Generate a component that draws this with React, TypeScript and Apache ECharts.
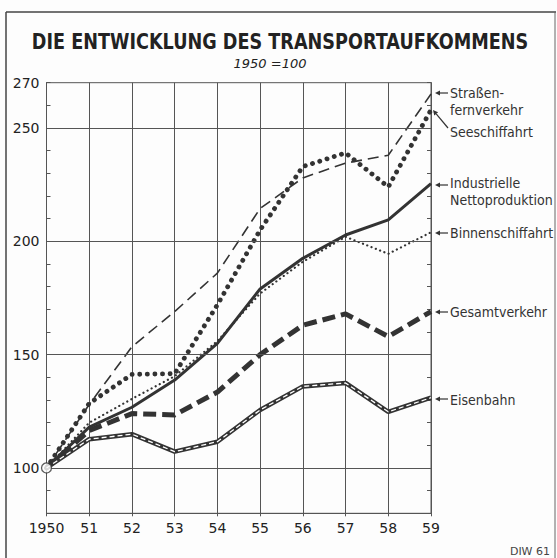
import React, { useEffect, useRef } from "react";
import * as echarts from "echarts";

const years = ["1950", "51", "52", "53", "54", "55", "56", "57", "58", "59"];
const strassen = [100, 128, 153.5, 169, 186, 214.5, 228, 234.5, 238, 265];
const seeschiff = [100, 128.5, 141.3, 141.6, 172, 205, 233, 239, 224, 258];
const industrie = [100, 118, 126.8, 138.8, 155, 179, 192.5, 202.8, 209.5, 225.5];
const binnen = [100, 120, 130.5, 140.5, 156, 177, 191, 202, 194.5, 204];
const gesamt = [100, 116.5, 124, 123.4, 133.5, 150, 163, 168, 158, 169];
const eisenbahn = [100, 112.7, 114.9, 107.2, 111.6, 125.6, 136, 137.5, 124.8, 131];
const gridValues = [100, 150, 200, 250];
const yLabels = [100, 150, 200, 250, 270];
const baseValue = 100;

const INK = "#333";
const FONT = "'DejaVu Sans', sans-serif";

function label(x: number, y: number, text: string) {
  return {
    type: "text",
    x,
    y,
    scaleX: 0.9,
    style: { text, font: `14px ${FONT}`, fill: INK, textVerticalAlign: "middle" },
  };
}
function arrow(x1: number, y1: number, x2: number, y2: number) {
  const ang = Math.atan2(y2 - y1, x2 - x1);
  const hl = 5, hw = 2.5;
  const bx = x1 + Math.cos(ang) * hl, by = y1 + Math.sin(ang) * hl;
  const px = -Math.sin(ang) * hw, py = Math.cos(ang) * hw;
  return [
    { type: "line", shape: { x1: bx, y1: by, x2, y2 }, style: { stroke: INK, lineWidth: 1.2 } },
    {
      type: "polygon",
      shape: { points: [[x1, y1], [bx + px, by + py], [bx - px, by - py]] },
      style: { fill: INK },
    },
  ];
}

export default function App() {
  const ref = useRef<HTMLDivElement>(null);
  useEffect(() => {
    document.body.style.margin = "0";
    const chart = echarts.init(ref.current!, null, { renderer: "svg" });
    const line = (name: string, data: number[], ls: any, z = 3) => ({
      type: "line",
      name,
      data,
      symbol: "none",
      z,
      lineStyle: { color: INK, ...ls },
    });
    chart.setOption({
      animation: false,
      backgroundColor: "#fdfdfd",
      grid: { left: 46.5, right: 126, top: 82.7, bottom: 44.7, show: true, borderColor: "#555", borderWidth: 1 },
      xAxis: {
        type: "category",
        data: years,
        boundaryGap: false,
        axisLine: { lineStyle: { color: "#555" } },
        axisTick: { show: true, length: 3, interval: 0, lineStyle: { color: "#555" } },
        axisLabel: { color: "#222", fontSize: 14, fontFamily: FONT, margin: 8, interval: 0 },
        splitLine: { show: true, interval: 0, lineStyle: { color: "#555", width: 1 } },
      },
      yAxis: [
        {
          type: "value",
          min: 80,
          max: 270,
          interval: 10,
          axisLine: { show: true, lineStyle: { color: "#555" } },
          axisTick: { show: true, inside: true, length: 4, lineStyle: { color: "#555" } },
          axisLabel: {
            color: "#222",
            fontSize: 14,
            fontFamily: FONT,
            margin: 7,
            formatter: (v: number) => (yLabels.includes(v) ? String(v) : ""),
          },
          splitLine: { show: false },
        },
        {
          type: "value",
          position: "right",
          min: 80,
          max: 270,
          interval: 10,
          axisLine: { show: true, lineStyle: { color: "#555" } },
          axisTick: { show: true, inside: true, length: 4, lineStyle: { color: "#555" } },
          axisLabel: { show: false },
          splitLine: { show: false },
        },
      ],
      series: [
        {
          type: "line",
          data: [],
          z: 1,
          markLine: {
            silent: true,
            symbol: "none",
            label: { show: false },
            lineStyle: { color: "#555", width: 1, type: "solid" },
            data: gridValues.map((v) => ({ yAxis: v })),
          },
        },
        line("Eisenbahn", eisenbahn, { width: 4.5 }),
        line("Eisenbahn ", eisenbahn, { width: 1.3, color: "#fff", type: [5, 3] }, 4),
        line("Gesamtverkehr", gesamt, { width: 5, type: [13, 6] }),
        line("Binnenschiffahrt", binnen, { width: 2.2, type: [0.1, 4.5], cap: "round" }),
        line("Industrielle Nettoproduktion", industrie, { width: 3 }),
        line("Seeschiffahrt", seeschiff, { width: 4.8, type: [0.1, 7.5], cap: "round" }),
        line("Straßenfernverkehr", strassen, { width: 1.6, type: [11, 6] }),
        {
          type: "scatter",
          data: [[years[0], baseValue]],
          symbol: "circle",
          symbolSize: 10,
          z: 10,
          itemStyle: { color: "#fff", borderColor: INK, borderWidth: 1.3 },
        },
      ],
      graphic: [
        { type: "line", shape: { x1: 6, y1: 12, x2: 556, y2: 12 }, style: { stroke: "#444", lineWidth: 1.5 } },
        { type: "line", shape: { x1: 6, y1: 12, x2: 6, y2: 558 }, style: { stroke: "#444", lineWidth: 1.5 } },
        { type: "line", shape: { x1: 555, y1: 12, x2: 555, y2: 558 }, style: { stroke: "#666", lineWidth: 1 } },
        {
          type: "text",
          x: 280,
          y: 42,
          scaleX: 0.84,
          style: {
            text: "DIE ENTWICKLUNG DES TRANSPORTAUFKOMMENS",
            font: `bold 21px ${FONT}`,
            fill: "#222",
            textAlign: "center",
            textVerticalAlign: "middle",
          },
        },
        {
          type: "text",
          x: 270,
          y: 63,
          style: {
            text: "1950 =100",
            font: `italic 13px ${FONT}`,
            fill: "#222",
            textAlign: "center",
            textVerticalAlign: "middle",
          },
        },
        label(450, 93, "Straßen-"),
        label(450, 110, "fernverkehr"),
        label(450, 132, "Seeschiffahrt"),
        label(450, 183, "Industrielle"),
        label(450, 200, "Nettoproduktion"),
        label(450, 233, "Binnenschiffahrt"),
        label(450, 312, "Gesamtverkehr"),
        label(450, 400, "Eisenbahn"),
        ...arrow(435, 93, 448, 93),
        ...arrow(433, 110, 448, 128),
        ...arrow(435, 185, 448, 185),
        ...arrow(435, 233, 448, 233),
        ...arrow(435, 312, 448, 312),
        ...arrow(435, 399, 448, 399),
        {
          type: "text",
          x: 550,
          y: 551,
          style: { text: "DIW 61", font: `11px ${FONT}`, fill: "#444", textAlign: "right", textVerticalAlign: "middle" },
        },
      ],
    });
    return () => chart.dispose();
  }, []);
  return <div ref={ref} style={{ position: "fixed", left: 0, top: 0, width: 557, height: 558 }} />;
}
